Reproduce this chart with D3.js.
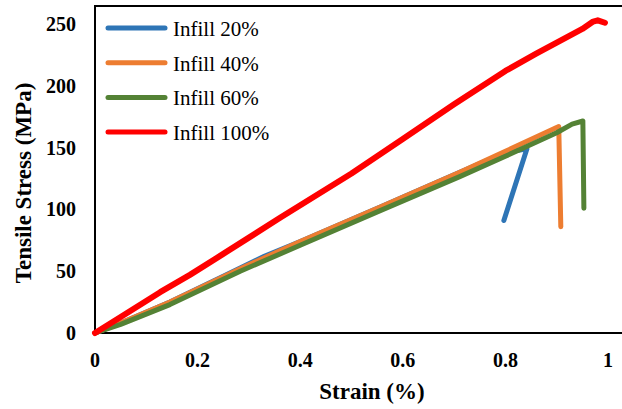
<!DOCTYPE html>
<html>
<head>
<meta charset="utf-8">
<script src="https://cdn.jsdelivr.net/npm/d3@7"></script>
<style>
  body { margin: 0; background: #fff; }
</style>
</head>
<body>
<div id="chart"></div>
<script>
// strain (%) / stress (MPa)
const seriesNames = ["Infill 20%", "Infill 40%", "Infill 60%", "Infill 100%"];
const seriesColors = ["#2E75B6", "#ED7D31", "#548235", "#FF0000"];

const infill20 = [[0, 0], [0.05, 8], [0.146, 25], [0.25, 46], [0.33, 62], [0.4, 74], [0.556, 102],
  [0.711, 130], [0.8, 146], [0.842, 149], [0.797, 91]];
const infill40 = [[0, 0], [0.05, 8], [0.146, 25], [0.283, 52], [0.4, 74], [0.556, 102],
  [0.711, 130], [0.8, 147], [0.904, 167], [0.908, 86]];
const infill60 = [[0, 0], [0.05, 7], [0.146, 23], [0.283, 50], [0.4, 71], [0.556, 99],
  [0.711, 126.5], [0.8, 143], [0.9, 162], [0.93, 169], [0.951, 171.5], [0.953, 101]];
const infill100 = [[0, 0], [0.05, 13], [0.127, 33], [0.185, 47], [0.25, 64], [0.36, 93],
  [0.5, 129], [0.6, 157], [0.7, 185], [0.8, 212], [0.86, 226], [0.9, 235], [0.95, 246],
  [0.971, 252], [0.98, 253], [0.994, 251]];

const xTicks = [0, 0.2, 0.4, 0.6, 0.8, 1];
const yTicks = [0, 50, 100, 150, 200, 250];

const W = 622, H = 409;
const margin = { left: 95, top: 6, bottom: 76 };
const serif = "'Liberation Serif', 'Times New Roman', 'DejaVu Serif', serif";

const svg = d3.select("#chart").append("svg")
  .attr("width", W)
  .attr("height", H)
  .attr("font-family", serif)
  .style("font-family", serif);

const x = d3.scaleLinear().domain([0, 1]).range([margin.left, 608]);
const y = d3.scaleLinear().domain([0, 250]).range([H - margin.bottom, 24]);

// frame: left, bottom and top edges (right side runs off the image)
svg.append("line").attr("x1", margin.left).attr("x2", margin.left)
  .attr("y1", margin.top).attr("y2", y(0)).attr("stroke", "#000").attr("stroke-width", 2);
svg.append("line").attr("x1", margin.left - 1).attr("x2", W)
  .attr("y1", y(0)).attr("y2", y(0)).attr("stroke", "#000").attr("stroke-width", 2);
svg.append("line").attr("x1", margin.left - 1).attr("x2", W)
  .attr("y1", margin.top).attr("y2", margin.top).attr("stroke", "#000").attr("stroke-width", 2);

// tick labels
svg.append("g").selectAll("text")
  .data(yTicks)
  .enter().append("text")
    .attr("x", 76)
    .attr("y", d => y(d) + 7)
    .attr("text-anchor", "end")
    .attr("font-size", 20)
    .attr("font-weight", "bold")
    .text(d => d);

svg.append("g").selectAll("text")
  .data(xTicks)
  .enter().append("text")
    .attr("x", d => x(d))
    .attr("y", 367)
    .attr("text-anchor", "middle")
    .attr("font-size", 20)
    .attr("font-weight", "bold")
    .text(d => d);

// axis titles
svg.append("text")
  .attr("x", 372).attr("y", 399)
  .attr("text-anchor", "middle")
  .attr("font-size", 23).attr("font-weight", "bold")
  .text("Strain (%)");

svg.append("text")
  .attr("transform", "translate(31,183) rotate(-90)")
  .attr("text-anchor", "middle")
  .attr("font-size", 23).attr("font-weight", "bold")
  .text("Tensile Stress (MPa)");

// curves
const line = d3.line().x(d => x(d[0])).y(d => y(d[1]));
const allSeries = [infill20, infill40, infill60, infill100];

svg.append("g").selectAll("path")
  .data(allSeries)
  .enter().append("path")
    .attr("d", line)
    .attr("fill", "none")
    .attr("stroke", (d, i) => seriesColors[i])
    .attr("stroke-width", (d, i) => i === 3 ? 6 : 5)
    .attr("stroke-linecap", "round")
    .attr("stroke-linejoin", "round");

// legend
const legend = svg.append("g").selectAll("g")
  .data(seriesNames)
  .enter().append("g")
    .attr("transform", (d, i) => "translate(0," + (28 + i * 34.7) + ")");

legend.append("line")
  .attr("x1", 108).attr("x2", 165)
  .attr("stroke", (d, i) => seriesColors[i])
  .attr("stroke-width", 5)
  .attr("stroke-linecap", "round");

legend.append("text")
  .attr("x", 173).attr("y", 8)
  .attr("font-size", 21)
  .text(d => d);
</script>
</body>
</html>
